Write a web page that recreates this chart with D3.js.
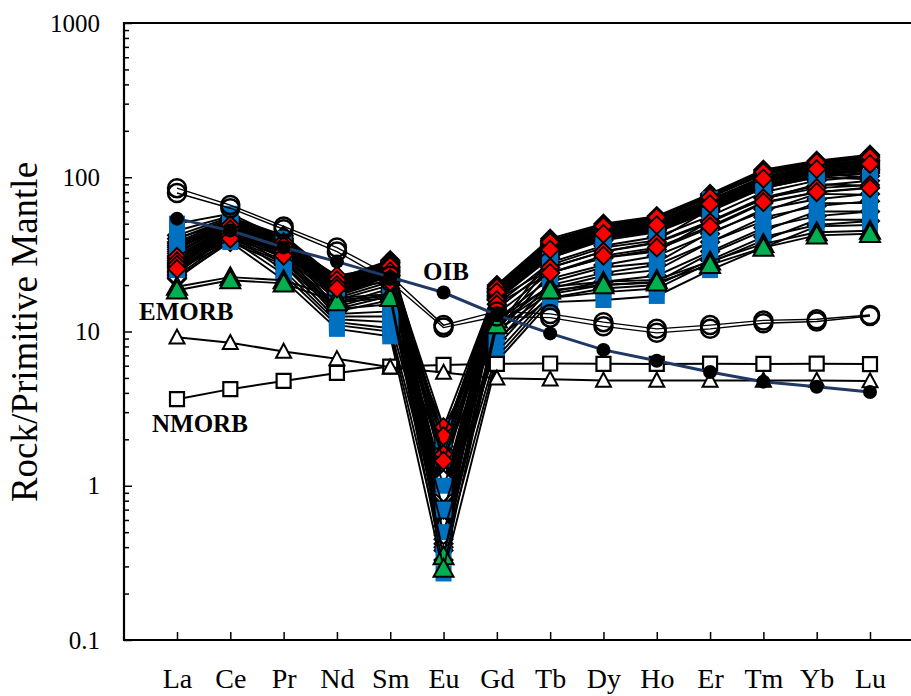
<!DOCTYPE html>
<html>
<head>
<meta charset="utf-8">
<script src="https://cdn.jsdelivr.net/npm/d3@7/dist/d3.min.js"></script>
<style>
  body { margin: 0; background: #fff; }
  svg text { font-family: "Times New Roman", "Liberation Serif", Tinos, "DejaVu Serif", serif; fill: #000; }
</style>
</head>
<body>
<script>
'use strict';

// REE, normalised to primitive mantle
const elements = ["La","Ce","Pr","Nd","Sm","Eu","Gd","Tb","Dy","Ho","Er","Tm","Yb","Lu"];
const yTicks = [0.1, 1, 10, 100, 1000];

// reference compositions
const oib   = [53.9, 45.1, 35.1, 28.4, 22.5, 17.9, 12.8, 9.72, 7.60, 6.46, 5.46, 4.73, 4.38, 4.05];
const emorb = [9.17, 8.45, 7.43, 6.65, 5.86, 5.42, 4.98, 4.91, 4.82, 4.82, 4.81, 4.81, 4.81, 4.78];
const nmorb = [3.64, 4.23, 4.78, 5.39, 5.92, 6.07, 6.17, 6.20, 6.17, 6.16, 6.19, 6.16, 6.19, 6.15];

// samples, one row per sample
const diamondSamples = [
  [42, 55, 42, 22, 29, 2.0, 20, 40, 50, 56, 78, 112, 128, 140],
  [40, 54, 41, 21.5, 28.5, 1.9, 19.5, 39, 49, 55, 77, 110, 126, 138],
  [38, 53, 40, 21, 28, 1.8, 19, 38, 48, 54, 75, 106, 122, 134],
  [37, 52, 40, 21, 28, 1.7, 19, 38.5, 48.5, 54.5, 76, 108, 124, 136],
  [36, 51, 40, 20.5, 27.5, 1.5, 18.8, 37, 47, 53, 74, 104, 120, 131],
  [35, 52, 39, 20, 27, 1.3, 18.5, 36, 46, 52, 72, 100, 118, 128],
  [34, 51, 39, 20, 26.5, 1.2, 18.2, 36.5, 46, 51, 71, 101, 119, 129],
  [33, 50, 38, 19.5, 26, 1.0, 18, 35, 45, 50, 70, 97, 115, 125],
  [32, 50, 38, 19.5, 26, 0.9, 18, 35.5, 44.5, 50, 69, 98, 116, 126],
  [31, 49, 37, 19, 25, 0.8, 17.5, 34, 43, 48, 67, 94, 112, 120],
  [30, 49, 37, 19, 25.5, 0.65, 17.5, 35, 44, 49, 68, 96, 113, 122],
  [30, 48, 36, 18.5, 25, 0.6, 17, 33, 42, 47, 65, 92, 108, 116],
  [29, 48, 36.5, 18.5, 25, 0.55, 17.2, 34, 43, 48, 66, 93, 110, 118],
  [29, 47, 35, 18, 24, 0.5, 16.5, 32, 41, 46, 63, 88, 104, 112],
  [27.5, 47, 35.5, 18, 24.5, 0.42, 16.8, 33.5, 42.5, 47, 64, 90, 106, 114],
  [28, 46, 34, 17.5, 23, 0.45, 16, 30, 39, 44, 60, 85, 100, 108],
  [26.5, 46, 35, 17.5, 24, 0.75, 16.5, 32.5, 41.5, 46, 62, 87, 103, 110],
  [23.5, 45, 34, 17.8, 23.5, 0.33, 16.2, 31.5, 40.5, 45.5, 62, 89, 105, 112],
  [27, 45, 33, 17, 22, 0.55, 15, 28, 36, 41, 56, 80, 95, 102],
  [24.5, 44, 33, 17, 23, 0.85, 16, 31, 40, 45, 61, 86, 101, 106],
  [26, 44, 32, 16.5, 21, 0.7, 14, 26, 33, 38, 52, 74, 88, 95],
  [25, 43, 31, 16, 20, 0.9, 13, 24, 30, 34, 47, 68, 80, 86],
  [24, 42, 30, 15, 19, 0.4, 12, 22, 27, 31, 43, 62, 72, 78],
  [23, 40, 29, 14.5, 18, 1.1, 11, 20, 24, 27, 38, 55, 65, 70],
  [22, 39, 28, 14, 17, 0.38, 10, 18, 21, 23, 33, 47, 56, 60],
  [22.5, 38, 27, 13.5, 16, 0.48, 9, 16.5, 19, 20, 29, 41, 49, 52]
];
const blueSamples = [
  [50, 58, 40, 16, 17, 2.4, 10.5, 30, 40, 45, 72, 95, 105, 100],
  [45, 56, 36, 14, 15, 2.0, 10, 27, 35, 39, 62, 85, 100, 97],
  [40, 52, 33, 13, 13.5, 1.5, 9.5, 24, 30, 33, 52, 72, 90, 88],
  [35, 49, 30, 12.5, 12.5, 1.0, 8.5, 21, 26, 28, 44, 60, 78, 77],
  [31, 46, 27, 12, 11.5, 0.7, 8, 19, 23, 25, 38, 52, 68, 68],
  [28, 43, 25, 11.5, 10.5, 0.5, 7.3, 17.5, 20, 21, 32, 45, 60, 60],
  [26, 40, 23.5, 11, 10, 0.36, 6.8, 16.5, 18, 19, 28, 39, 53, 53],
  [25, 38, 21.6, 10.4, 9.3, 0.27, 6.4, 15.5, 16, 17, 25, 35, 48, 49]
];
const greenSamples = [
  [19.5, 22.5, 21.5, 16.5, 17.5, 0.35, 12, 19.5, 21, 21.6, 28.5, 37, 44, 45],
  [18.5, 21.5, 20.5, 15.5, 16.5, 0.29, 11, 18.5, 20, 20.8, 27, 35, 42, 43]
];
const redSamples = [
  [30.5, 49, 38, 23, 26.5, 2.4, 19.2, 38, 48, 55, 74, 108, 125, 135],
  [28.5, 46, 36, 21.5, 24.5, 2.1, 18, 34, 43, 49, 67, 98, 113, 122],
  [27, 42, 33, 20, 22, 1.6, 16, 26, 33, 37.5, 51, 73, 85, 89],
  [25.5, 40, 31, 19, 21, 1.45, 15, 24, 31, 35, 48, 69, 80, 85]
];
const circleSamples = [
  [85, 66, 48, 35, 23, 11, 13.5, 13, 11.5, 10.4, 11, 11.8, 12, 12.8],
  [79, 63, 46, 33, 21, 10.6, 12.5, 12.3, 10.8, 9.8, 10.4, 11.3, 11.6, 12.6]
];

const W = 911, H = 696;
const plot = {left: 124, right: 930, top: 23, bottom: 640};
const serif = '"Times New Roman", "Liberation Serif", Tinos, "DejaVu Serif", serif';

d3.selection.prototype.attrs = function(o){
  for (let k in o) this.attr(k, o[k]);
  return this;
};

const svg = d3.select("body").append("svg")
  .attr("width", W)
  .attr("height", H)
  .attr("font-family", serif);

const x = d3.scalePoint().domain(elements).range([177, 870]);
const y = d3.scaleLog().domain([0.1, 1000]).range([plot.bottom, plot.top]);

const line = d3.line()
  .x((d, i) => x(elements[i]))
  .y(d => y(d));

// marker shapes
function diamondPath(r){ return `M0,${-r}L${r},0L0,${r}L${-r},0Z`; }
function trianglePath(w, h){ return `M0,${-h * 0.55}L${w / 2},${h * 0.45}L${-w / 2},${h * 0.45}Z`; }
function squarePath(s){ return `M${-s/2},${-s/2}h${s}v${s}h${-s}Z`; }
const circle9 = d3.symbol(d3.symbolCircle, Math.PI * 81)();
const circle7 = d3.symbol(d3.symbolCircle, Math.PI * 49)();

// one series = its line, then its markers (like the spreadsheet draws them)
function drawSeries(row, p){
  let g = svg.append("g");
  g.append("path").datum(row).attr("d", line)
    .attrs({fill: "none", stroke: p.lineColor || "#000", "stroke-width": p.lineWidth || 1.9});
  g.selectAll(".m").data(row).join("path")
    .attr("class", "m")
    .attr("transform", (d, i) => `translate(${x(elements[i])},${y(d)})`)
    .attr("d", p.shape)
    .attrs(p.style);
}

const diamondOpen = {shape: diamondPath(9), style: {fill: "#fff", stroke: "#000", "stroke-width": 2}};
const blueSquare = {shape: squarePath(16), style: {fill: "#0070C0", stroke: "none"}};
const greenTri = {shape: trianglePath(20, 18), style: {fill: "#00B050", stroke: "#000", "stroke-width": 2}};
const redDiamond = {shape: diamondPath(9), style: {fill: "#FF0000", stroke: "#000", "stroke-width": 1.8}};
const openCircle = {shape: circle9, style: {fill: "none", stroke: "#000", "stroke-width": 2.5}};

diamondSamples.forEach(r => drawSeries(r, diamondOpen));
blueSamples.forEach(r => drawSeries(r, blueSquare));
greenSamples.forEach(r => drawSeries(r, greenTri));
redSamples.forEach(r => drawSeries(r, redDiamond));
circleSamples.forEach(r => drawSeries(r, Object.assign({lineWidth: 1.4}, openCircle)));

// reference curves
drawSeries(nmorb, {lineWidth: 2, shape: squarePath(14), style: {fill: "#fff", stroke: "#000", "stroke-width": 2.2}});
drawSeries(emorb, {lineWidth: 2, shape: trianglePath(15, 14), style: {fill: "#fff", stroke: "#000", "stroke-width": 2}});
drawSeries(oib, {lineWidth: 3, lineColor: "#1F3864", shape: circle7, style: {fill: "#000", stroke: "none"}});

// --- axes
const minorTicks = [];
[0.1, 1, 10, 100].forEach(d => { for (let k = 2; k <= 9; k++) minorTicks.push(d * k); });

const yAxis = svg.append("g")
  .attr("transform", `translate(${plot.left},0)`)
  .call(d3.axisLeft(y).tickValues(yTicks).tickFormat(d => String(d)).tickSize(-8).tickPadding(24));
svg.append("g")
  .attr("transform", `translate(${plot.left},0)`)
  .call(d3.axisLeft(y).tickValues(minorTicks).tickFormat("").tickSize(-5));
yAxis.attr("font-family", serif).attr("font-size", 25);

const xAxis = svg.append("g")
  .attr("transform", `translate(0,${plot.bottom})`)
  .call(d3.axisBottom(x).tickSize(-8).tickPadding(28));
xAxis.attr("font-family", serif).attr("font-size", 28);

svg.selectAll(".tick line").attr("stroke", "#000").attr("stroke-width", 1.5);
svg.selectAll(".domain").remove();

// frame: top, left and bottom lines
svg.append("path")
  .attr("d", `M${plot.right},${plot.top}H${plot.left}V${plot.bottom}H${plot.right}`)
  .attrs({fill: "none", stroke: "#000", "stroke-width": 2.2});

// --- labels
svg.append("text")
  .attr("transform", `translate(37,332) rotate(-90)`)
  .attr("text-anchor", "middle")
  .attr("font-size", 37)
  .text("Rock/Primitive Mantle");

[["OIB", 423, 280], ["EMORB", 139, 320], ["NMORB", 152, 432]].forEach(t => {
  svg.append("text").attr("x", t[1]).attr("y", t[2])
    .attr("font-weight", "bold").attr("font-size", 25)
    .text(t[0]);
});
</script>
</body>
</html>
